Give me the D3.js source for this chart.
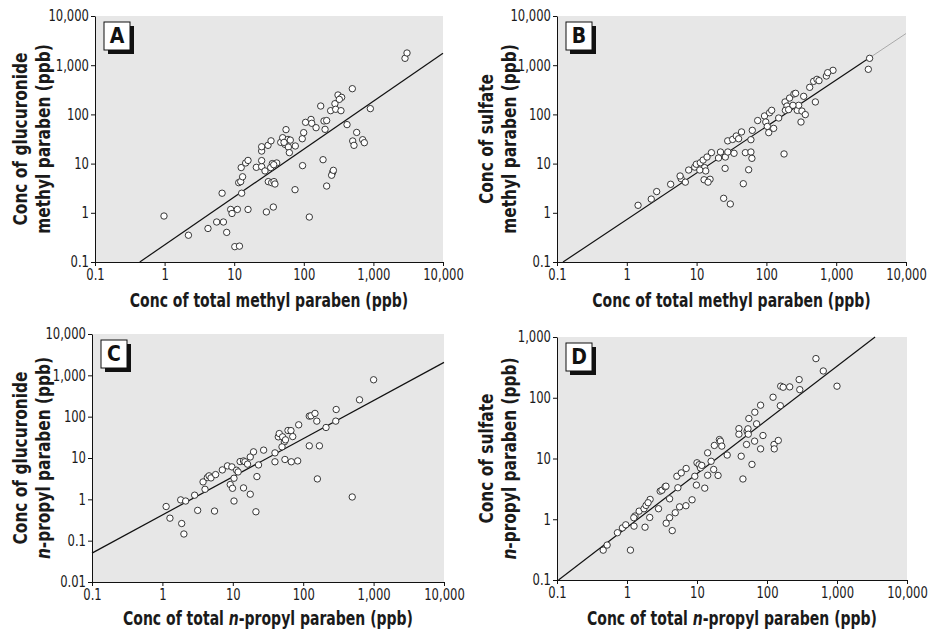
<!DOCTYPE html>
<html>
<head>
<meta charset="utf-8">
<script src="https://cdn.jsdelivr.net/npm/d3@7"></script>
<style>
  body { margin: 0; background: #fff; }
  svg { display: block; font-family: "DejaVu Sans Condensed", "Liberation Sans Narrow", sans-serif; }
</style>
</head>
<body>
<svg id="chart" width="932" height="632"></svg>
<script>
// Panel A: total methyl paraben vs glucuronide methyl paraben (ppb)
const aX = [0.98, 2.2, 4.2, 5.6, 7.0, 7.8, 6.7, 8.9, 9.3, 11.1, 10.2, 11.9, 15.8, 12.8, 11.6, 12.4, 13.2, 12.6, 14.6, 15.8,
  20.8, 24.8, 24.8, 27.7, 24.8, 24.8, 30.6, 33.8, 35.3, 33.4, 40.8, 30.9, 34.5, 37.3, 38.5, 29, 36.5, 46.6, 49.7, 55.5,
  53.7, 59.3, 60, 62, 75.5, 96, 74.8, 95, 99.6, 106, 127, 130, 150, 120, 175, 195, 213, 202, 189, 243,
  280, 310, 350, 287, 342, 324, 260, 251, 266, 213, 418, 498, 575, 504, 526, 701, 741, 904, 2845, 3040, 52, 64, 37];
const aY = [0.86, 0.35, 0.48, 0.65, 0.65, 0.40, 2.5, 1.17, 0.97, 1.17, 0.205, 0.21, 1.17, 2.5, 4.1, 4.3, 5.4, 8.3, 10.3, 11.6,
  8.4, 8.7, 11.5, 7.1, 18, 22, 23.5, 29, 10, 8.3, 10.3, 4.3, 4.1, 4.3, 3.85, 1.04, 1.31, 27, 33.6, 49,
  24.6, 31, 21.7, 16.7, 22.8, 9.1, 2.95, 32, 42.6, 69, 79, 66, 53.7, 0.82, 148, 73.5, 75, 49.7, 12, 119,
  165, 248, 222, 127, 119, 202, 6.65, 5.8, 7.3, 3.5, 62, 333, 43, 28.8, 23.5, 30.6, 26.6, 131, 1380, 1770, 27, 30, 9.5];
const aFitX = [0.44, 10000];
const aFitY = [0.1, 1740];

// Panel B: total methyl paraben vs sulfate methyl paraben (ppb)
const bX = [1.45, 2.24, 2.68, 4.25, 6.0, 5.8, 6.9, 7.7, 9.4, 9.9, 11.3, 12.4, 13, 13.5, 11.1, 14.1, 16.3, 12.8, 15.6, 14.6,
  22, 25.8, 20.6, 28, 25.6, 34.4, 27.9, 32.8, 37, 40, 44, 50, 60, 62, 55.7, 46.7, 24.4, 30.4, 60, 62.8,
  75, 94, 98, 103, 108, 111, 119, 127, 150, 179, 185, 197, 215, 187, 208, 248, 262, 277, 290, 323,
  342, 361, 313, 417, 503, 475, 530, 567, 723, 900, 755, 3010, 2885, 240];
const bY = [1.42, 1.9, 2.7, 3.8, 4.95, 5.6, 4.2, 7.4, 8.5, 9.7, 10.4, 11.8, 8.3, 7.1, 7.4, 13.6, 16.7, 4.7, 4.8, 4.2,
  17.2, 13.6, 13, 17.2, 8.0, 16.2, 29, 31, 36.4, 32, 44, 16.7, 17.2, 12.8, 7.5, 3.9, 1.97, 1.51, 30.6, 47.4,
  75, 93, 70, 57, 42.6, 108, 121, 52, 84.5, 15.7, 179, 148, 215, 121, 125, 260, 268, 121, 153, 117,
  233, 99, 70, 355, 179, 470, 516, 485, 603, 787, 705, 1380, 825, 153];
const bFitX = [0.122, 3000, 10000];
const bFitY = [0.1, 1410, 4400];

// Panel C: total n-propyl paraben vs glucuronide n-propyl paraben (ppb)
const cX = [1.13, 1.28, 1.88, 2.02, 1.82, 2.14, 2.87, 3.17, 4.03, 3.78, 4.35, 4.6, 4.9, 5.7, 5.5, 7.1, 8.4, 9.7, 9.2, 9.9,
  10.4, 10.4, 11.3, 11.9, 12.7, 14.2, 14.9, 14.2, 16.2, 17.7, 19.7, 17.7, 22, 23.2, 21.3, 27.4, 39.7, 39.7, 44.3, 45.7,
  51, 54, 50, 56, 60.8, 67, 71, 55, 67.8, 83.5, 86.3, 122, 129, 147, 156, 122, 170, 159, 211, 294,
  290, 497, 631, 1000];
const cY = [0.67, 0.35, 0.26, 0.145, 0.97, 0.91, 1.26, 0.54, 1.75, 2.64, 3.37, 3.7, 3.3, 3.97, 0.52, 5.15, 6.45, 6.1, 2.28, 1.85,
  0.91, 3.24, 5.06, 4.6, 8.2, 8.5, 8.1, 1.89, 7.1, 10.6, 14.1, 1.33, 3.55, 6.8, 0.50, 15.5, 13.3, 8.1, 32.5, 39,
  32.5, 24.6, 18.6, 27.5, 46.3, 46, 33, 9.2, 8.1, 8.5, 63.5, 103, 105, 120, 78, 19.7, 19.7, 3.12, 54.7, 149,
  78, 1.14, 256, 781];
const cFitX = [0.1, 10000];
const cFitY = [0.05, 2060];

// Panel D: total n-propyl paraben vs sulfate n-propyl paraben (ppb)
const dX = [0.457, 0.52, 0.73, 0.86, 0.96, 1.12, 1.26, 1.30, 1.25, 1.49, 1.81, 1.75, 1.87, 2.14, 2.11, 2.0, 2.82, 2.98, 3.15, 3.5,
  3.6, 4.06, 3.63, 4.06, 4.43, 4.89, 5.64, 6.95, 8.5, 5.33, 5.16, 5.96, 7.0, 9.3, 9.8, 10, 10.7, 11.2, 11.7, 12.9,
  14.2, 14.2, 15.9, 17.3, 17.7, 20, 20.9, 21.6, 22.6, 27, 39.7, 39.7, 42.8, 45.3, 52, 55, 53.5, 51, 54, 61,
  67, 71, 81, 87.6, 81, 66.5, 122, 126, 127, 145, 157, 170, 211, 155, 288, 294, 500, 637, 1000];
const dY = [0.31, 0.376, 0.60, 0.72, 0.81, 0.31, 0.77, 1.13, 1.06, 1.36, 0.74, 1.49, 1.69, 2.12, 1.07, 1.87, 1.49, 2.9, 3.0, 3.42,
  3.5, 2.17, 0.86, 1.06, 0.65, 1.28, 1.6, 1.67, 2.09, 3.3, 5.1, 5.8, 6.85, 5.1, 3.65, 8.5, 7.9, 7.0, 7.7, 3.25,
  5.3, 12.4, 9.0, 6.6, 16.4, 5.26, 20.5, 19.3, 16.0, 11.4, 31, 25.1, 10.9, 4.6, 28.1, 45.5, 30.8, 17, 25.1, 8.0,
  57.8, 37.2, 75.4, 23.9, 14.4, 19.3, 102, 17, 14.4, 19.8, 155, 149, 151, 74, 199, 136, 441, 276, 155];
const dFitX = [0.105, 3500];
const dFitY = [0.1, 1000];

const xTicks = [0.1, 1, 10, 100, 1000, 10000];
const yTicksAB = [0.1, 1, 10, 100, 1000, 10000];
const yTicksC = [0.01, 0.1, 1, 10, 100, 1000, 10000];
const yTicksD = [0.1, 1, 10, 100, 1000];

const fmt = d => d < 1 ? String(d) : d3.format(",")(d);

// the installed fonts are wider than the original condensed face
const squeeze = 0.82;
const ySqueeze = 0.9;
const tickSqueeze = 0.86;

const svg = d3.select("#chart");

const panels = [
  { label: "A", xs: aX, ys: aY, fx: aFitX, fy: aFitY, yTicks: yTicksAB,
    left: 95, right: 443, top: 16, bottom: 262, ox: 0,
    yTitle: [["Conc of glucuronide"], ["methyl paraben (ppb)"]],
    xTitle: [["Conc of total methyl paraben (ppb)"]], xTitleY: 307 },
  { label: "B", xs: bX, ys: bY, fx: bFitX, fy: bFitY, yTicks: yTicksAB,
    left: 557, right: 906, top: 16, bottom: 262, ox: 466,
    yTitle: [["Conc of sulfate"], ["methyl paraben (ppb)"]],
    xTitle: [["Conc of total methyl paraben (ppb)"]], xTitleY: 307 },
  { label: "C", xs: cX, ys: cY, fx: cFitX, fy: cFitY, yTicks: yTicksC,
    left: 92, right: 444, top: 334, bottom: 582, ox: 0,
    yTitle: [["Conc of glucuronide"], ["n", true], ["-propyl paraben (ppb)"]],
    xTitle: [["Conc of total "], ["n", true], ["-propyl paraben (ppb)"]], xTitleY: 625 },
  { label: "D", xs: dX, ys: dY, fx: dFitX, fy: dFitY, yTicks: yTicksD,
    left: 557, right: 907, top: 337, bottom: 580, ox: 466,
    yTitle: [["Conc of sulfate"], ["n", true], ["-propyl paraben (ppb)"]],
    xTitle: [["Conc of total "], ["n", true], ["-propyl paraben (ppb)"]], xTitleY: 625 }
];

function addParts(text, parts) {
  parts.forEach(([t, it]) => {
    text.append("tspan").attr("font-style", it ? "italic" : null).text(t);
  });
}

function boldText(g, transform) {
  return g.append("text")
    .attr("transform", transform)
    .attr("text-anchor", "middle").attr("font-size", 19).attr("font-weight", "bold")
    .attr("fill", "#1a1a1a");
}

panels.forEach(p => {
  const x = d3.scaleLog().domain([0.1, 10000]).range([p.left, p.right]);
  const y = d3.scaleLog().domain(d3.extent(p.yTicks)).range([p.bottom, p.top]);
  const g = svg.append("g");

  // grey plot area
  g.append("rect")
    .attr("x", p.left).attr("y", p.top)
    .attr("width", p.right - p.left).attr("height", p.bottom - p.top)
    .attr("fill", "#e7e7e7");

  // regression line (B has a faded extension past the data)
  const line = d3.line().x(d => x(d[0])).y(d => y(d[1]));
  const pts = p.fx.map((v, i) => [v, p.fy[i]]);
  g.append("path").datum(pts.slice(0, 2))
    .attr("d", line).attr("fill", "none").attr("stroke", "#111").attr("stroke-width", 1.2);
  if (pts.length > 2) {
    g.append("path").datum(pts.slice(1))
      .attr("d", line).attr("fill", "none").attr("stroke", "#aaa").attr("stroke-width", 1);
  }

  // points
  g.selectAll("circle")
    .data(p.xs.map((v, i) => [v, p.ys[i]]))
    .join("circle")
    .attr("cx", d => x(d[0])).attr("cy", d => y(d[1]))
    .attr("r", 3.2)
    .attr("fill", "#fff").attr("stroke", "#222").attr("stroke-width", 0.9);

  // axes
  const xa = g.append("g").attr("transform", `translate(0,${p.bottom})`)
    .call(d3.axisBottom(x).tickValues(xTicks).tickFormat(fmt).tickSize(4).tickSizeOuter(0).tickPadding(3));
  const ya = g.append("g").attr("transform", `translate(${p.left},0)`)
    .call(d3.axisLeft(y).tickValues(p.yTicks).tickFormat(fmt).tickSize(4).tickSizeOuter(0).tickPadding(3));
  [xa, ya].forEach(a => {
    a.attr("font-family", null).attr("font-size", 15);
    a.selectAll("text").attr("fill", "#1a1a1a").attr("transform", `scale(${tickSqueeze},1)`);
    a.selectAll("path, line").attr("stroke", "#111");
  });

  // x title
  const xt = boldText(g, `translate(${(p.left + p.right) / 2},${p.xTitleY}) scale(${squeeze},1)`);
  addParts(xt, p.xTitle);

  // y title, two lines
  const cy = (p.top + p.bottom) / 2;
  addParts(boldText(g, `translate(${p.ox + 27},${cy}) rotate(-90) scale(${ySqueeze},1)`), [p.yTitle[0]]);
  addParts(boldText(g, `translate(${p.ox + 50},${cy}) rotate(-90) scale(${ySqueeze},1)`), p.yTitle.slice(1));

  // panel label box with shadow
  const bx = p.left + 9, by = p.top + 6;
  g.append("rect").attr("x", bx + 4).attr("y", by + 4).attr("width", 26).attr("height", 28).attr("fill", "#111");
  g.append("rect").attr("x", bx).attr("y", by).attr("width", 26).attr("height", 28)
    .attr("fill", "#fff").attr("stroke", "#111").attr("stroke-width", 1);
  g.append("text").attr("x", bx + 13).attr("y", by + 21)
    .attr("text-anchor", "middle").attr("font-size", 21).attr("font-weight", "bold")
    .attr("fill", "#111").text(p.label);
});
</script>
</body>
</html>
